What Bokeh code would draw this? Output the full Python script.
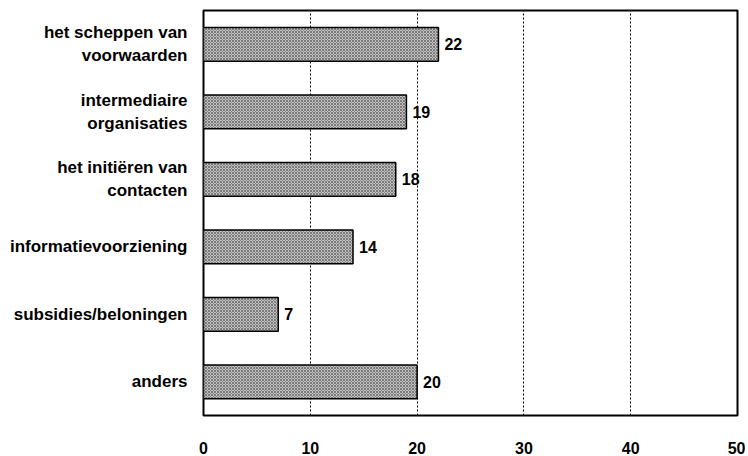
from bokeh.plotting import figure
from bokeh.models import FixedTicker, ColumnDataSource
from bokeh.core.properties import value
from bokeh.embed import file_html
from bokeh.resources import INLINE

categories = [
    "het scheppen van\nvoorwaarden",
    "intermediaire\norganisaties",
    "het initiëren van\ncontacten",
    "informatievoorziening",
    "subsidies/beloningen",
    "anders",
]
values = [22, 19, 18, 14, 7, 20]
x_ticks = [0, 10, 20, 30, 40, 50]

FONT = "Liberation Sans"

src = ColumnDataSource(dict(cat=categories, val=values, lbl=[str(v) for v in values]))

p = figure(
    width=745, height=456,
    y_range=list(reversed(categories)),
    x_range=(0, 50),
    output_backend="svg", toolbar_location=None,
    min_border_left=203, min_border_right=8, min_border_top=10, min_border_bottom=37,
)
p.y_range.range_padding = 0

p.hbar(y="cat", right="val", left=0, height=0.5, source=src,
       fill_color="#c2c2c2", line_color="black", line_width=1.5,
       hatch_pattern="diagonal_cross", hatch_scale=3, hatch_color="#5a5a5a", hatch_weight=0.7)

p.text(x="val", y="cat", text="lbl", source=src, x_offset=6,
       text_baseline="middle", text_align="left",
       text_font=value(FONT), text_font_style="bold", text_font_size="16px", text_color="black")

p.outline_line_color = "black"
p.outline_line_width = 2

p.xaxis.ticker = FixedTicker(ticks=x_ticks)
p.xaxis.axis_line_color = None
p.xaxis.major_tick_line_color = None
p.xaxis.minor_tick_line_color = None
p.xaxis.major_label_standoff = 20
p.xaxis.major_label_text_font = FONT
p.xaxis.major_label_text_font_style = "bold"
p.xaxis.major_label_text_font_size = "16px"
p.xaxis.major_label_text_color = "black"

p.yaxis.axis_line_color = None
p.yaxis.major_tick_line_color = None
p.yaxis.minor_tick_line_color = None
p.yaxis.major_label_standoff = 10
p.yaxis.major_label_text_font = FONT
p.yaxis.major_label_text_font_style = "bold"
p.yaxis.major_label_text_font_size = "17px"
p.yaxis.major_label_text_color = "black"

p.xgrid.ticker = FixedTicker(ticks=x_ticks)
p.xgrid.grid_line_color = "black"
p.xgrid.grid_line_dash = "2 2"
p.xgrid.grid_line_width = 1
p.ygrid.grid_line_color = None

p.background_fill_color = "white"
p.border_fill_color = "white"

open("out.html", "w").write(file_html(p, INLINE))
